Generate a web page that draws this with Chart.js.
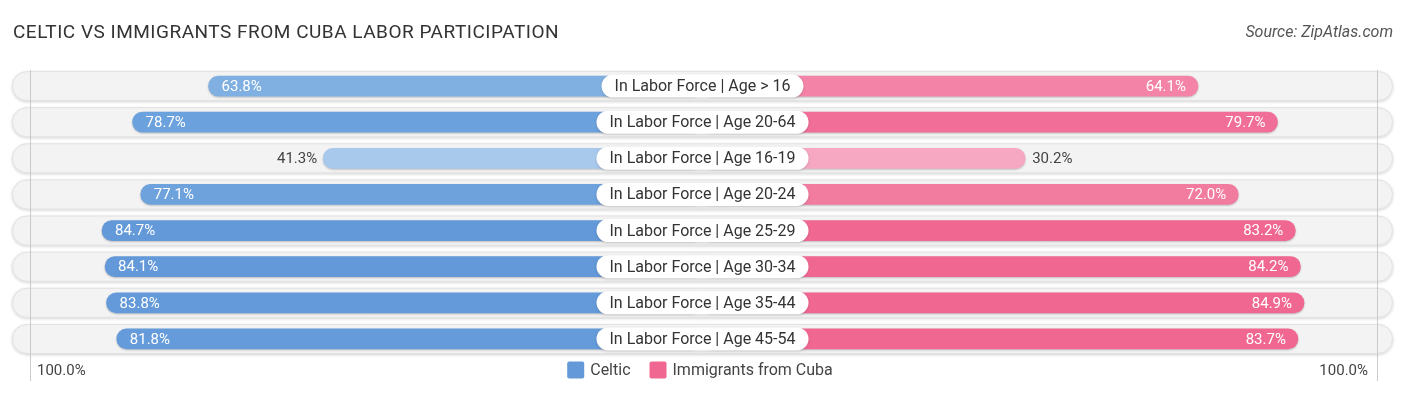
<!DOCTYPE html>
<html>
<head>
<meta charset="utf-8">
<script src="https://cdn.jsdelivr.net/npm/chart.js@4.4.1/dist/chart.umd.min.js"></script>
<style>
  html, body { margin: 0; padding: 0; background: #ffffff; }
  #wrap { position: relative; width: 1406px; height: 395px; }
  canvas { display: block; }
</style>
</head>
<body>
<div id="wrap"><canvas id="c" width="1406" height="395"></canvas></div>
<script>
// ---- data ----
const categories = [
  "In Labor Force | Age > 16",
  "In Labor Force | Age 20-64",
  "In Labor Force | Age 16-19",
  "In Labor Force | Age 20-24",
  "In Labor Force | Age 25-29",
  "In Labor Force | Age 30-34",
  "In Labor Force | Age 35-44",
  "In Labor Force | Age 45-54"
];
const celticValues = [63.8, 78.7, 41.3, 77.1, 84.7, 84.1, 83.8, 81.8];
const cubaValues   = [64.1, 79.7, 30.2, 72.0, 83.2, 84.2, 84.9, 83.7];
const seriesNames  = ["Celtic", "Immigrants from Cuba"];
const axisEndLabel = "100.0%";
const titleText  = "CELTIC VS IMMIGRANTS FROM CUBA LABOR PARTICIPATION";
const sourceText = "Source: ZipAtlas.com";

// ---- style ----
const celticColors = ["#80b0e2", "#6ba1dc", "#a9c9ec", "#6da2dd", "#6399d9", "#6399d9", "#649ad9", "#659bda"];
const cubaColors   = ["#f384a7", "#f06e98", "#f6a8c2", "#f27ba0", "#f06892", "#f06892", "#f06791", "#f06892"];
const legendBlue = "#6399d9", legendPink = "#f06892";
const CENTER_GAP = 33.1;   // half-width (in axis units) of the centre label zone
const AXIS_MAX = 100 + CENTER_GAP;

const fontFam = "Roboto, 'Noto Sans', sans-serif";

function roundRect(ctx, x, y, w, h, r) {
  ctx.beginPath();
  ctx.moveTo(x + r, y);
  ctx.lineTo(x + w - r, y);
  ctx.arc(x + w - r, y + r, r, -Math.PI / 2, 0);
  ctx.lineTo(x + w, y + h - r);
  ctx.arc(x + w - r, y + h - r, r, 0, Math.PI / 2);
  ctx.lineTo(x + r, y + h);
  ctx.arc(x + r, y + h - r, r, Math.PI / 2, Math.PI);
  ctx.lineTo(x, y + r);
  ctx.arc(x + r, y + r, r, Math.PI, Math.PI * 1.5);
  ctx.closePath();
}

const decor = {
  id: 'decor',
  beforeDatasetsDraw(chart) {
    const ctx = chart.ctx, ys = chart.scales.y;
    const ca = chart.chartArea;
    ctx.save();
    categories.forEach((c, i) => {
      const yc = ys.getPixelForValue(i);
      ctx.save();
      ctx.shadowColor = 'rgba(0,0,0,0.18)';
      ctx.shadowBlur = 3;
      ctx.shadowOffsetY = 1;
      roundRect(ctx, 12, yc - 15, 1381, 30, 15);
      ctx.fillStyle = '#f3f3f3';
      ctx.fill();
      ctx.restore();
      roundRect(ctx, 12.5, yc - 14.5, 1380, 29, 14.5);
      ctx.strokeStyle = '#e2e2e2';
      ctx.lineWidth = 1;
      ctx.stroke();
    });
    ctx.strokeStyle = 'rgba(190,190,190,0.8)';
    ctx.lineWidth = 1;
    const lx = Math.round(ca.left + 6) + 0.5, rx = Math.round(ca.right - 4) + 0.5;
    ctx.beginPath();
    ctx.moveTo(lx, ys.getPixelForValue(0) - 16); ctx.lineTo(lx, 381);
    ctx.moveTo(rx, ys.getPixelForValue(0) - 16); ctx.lineTo(rx, 381);
    ctx.stroke();
    ctx.restore();
    ctx.save();
    ctx.shadowColor = 'rgba(0,0,0,0.22)';
    ctx.shadowBlur = 2;
    ctx.shadowOffsetY = 1;
  },
  afterDatasetsDraw(chart) {
    const ctx = chart.ctx, ys = chart.scales.y, xs = chart.scales.x;
    ctx.restore();
    ctx.save();
    const cx = xs.getPixelForValue(0);
    categories.forEach((c, i) => {
      const yc = ys.getPixelForValue(i);
      ctx.font = `16px ${fontFam}`;
      const tw = ctx.measureText(c).width;
      const pw = tw + 26, ph = 23;
      ctx.save();
      ctx.shadowColor = 'rgba(0,0,0,0.15)';
      ctx.shadowBlur = 3;
      ctx.shadowOffsetY = 1;
      roundRect(ctx, cx - pw / 2, yc - ph / 2, pw, ph, ph / 2);
      ctx.fillStyle = '#ffffff';
      ctx.fill();
      ctx.restore();
      ctx.fillStyle = '#333333';
      ctx.textAlign = 'center';
      ctx.textBaseline = 'middle';
      ctx.fillText(c, cx, yc + 1);

      ctx.font = `15px ${fontFam}`;
      const lv = celticValues[i], rv = cubaValues[i];
      const lEnd = xs.getPixelForValue(-(lv + CENTER_GAP));
      const rEnd = xs.getPixelForValue(rv + CENTER_GAP);
      const lt = lv.toFixed(1) + '%', rt = rv.toFixed(1) + '%';
      if (lv >= 50) {
        ctx.fillStyle = '#ffffff'; ctx.textAlign = 'left';
        ctx.fillText(lt, lEnd + 13, yc + 1);
      } else {
        ctx.fillStyle = '#444444'; ctx.textAlign = 'right';
        ctx.fillText(lt, lEnd - 6, yc + 1);
      }
      if (rv >= 50) {
        ctx.fillStyle = '#ffffff'; ctx.textAlign = 'right';
        ctx.fillText(rt, rEnd - 12, yc + 1);
      } else {
        ctx.fillStyle = '#444444'; ctx.textAlign = 'left';
        ctx.fillText(rt, rEnd + 7, yc + 1);
      }
    });
    ctx.restore();
  },
  afterDraw(chart) {
    const ctx = chart.ctx;
    ctx.save();
    ctx.font = `19px ${fontFam}`;
    ctx.fillStyle = '#333333';
    ctx.textAlign = 'left';
    ctx.textBaseline = 'middle';
    if ('letterSpacing' in ctx) ctx.letterSpacing = '0.5px';
    ctx.fillText(titleText, 13, 33);
    if ('letterSpacing' in ctx) ctx.letterSpacing = '0px';
    ctx.font = `italic 16px ${fontFam}`;
    ctx.fillStyle = '#555555';
    ctx.textAlign = 'right';
    ctx.fillText(sourceText, 1393, 33);
    ctx.font = `15px ${fontFam}`;
    ctx.fillStyle = '#444444';
    ctx.textAlign = 'left';
    ctx.fillText(axisEndLabel, 37, 371);
    ctx.textAlign = 'right';
    ctx.fillText(axisEndLabel, 1368, 371);
    ctx.font = `16px ${fontFam}`;
    const w1 = ctx.measureText(seriesNames[0]).width;
    const w2 = ctx.measureText(seriesNames[1]).width;
    const total = 17 + 6 + w1 + 19 + 17 + 6 + w2;
    let x = 700 - total / 2;
    const y = 370;
    roundRect(ctx, x, y - 8.5, 17, 17, 2);
    ctx.fillStyle = legendBlue; ctx.fill();
    ctx.fillStyle = '#444444'; ctx.textAlign = 'left';
    ctx.fillText(seriesNames[0], x + 23, y + 1);
    x += 17 + 6 + w1 + 19;
    roundRect(ctx, x, y - 8.5, 17, 17, 2);
    ctx.fillStyle = legendPink; ctx.fill();
    ctx.fillStyle = '#444444';
    ctx.fillText(seriesNames[1], x + 23, y + 1);
    ctx.restore();
  }
};

new Chart(document.getElementById('c'), {
  type: 'bar',
  data: {
    labels: categories,
    datasets: [
      {
        label: seriesNames[0],
        data: celticValues.map(v => [-(v + CENTER_GAP), 0]),
        backgroundColor: celticColors,
        borderRadius: 10,
        borderSkipped: false,
        barThickness: 20
      },
      {
        label: seriesNames[1],
        data: cubaValues.map(v => [0, v + CENTER_GAP]),
        backgroundColor: cubaColors,
        borderRadius: 10,
        borderSkipped: false,
        barThickness: 20
      }
    ]
  },
  options: {
    indexAxis: 'y',
    responsive: false,
    animation: false,
    devicePixelRatio: 1,
    layout: { padding: { left: 24, right: 25, top: 68, bottom: 38 } },
    scales: {
      x: { display: false, min: -AXIS_MAX, max: AXIS_MAX, stacked: false },
      y: { display: false, offset: true }
    },
    datasets: { bar: { grouped: false } },
    plugins: { legend: { display: false }, title: { display: false }, tooltip: { enabled: false } }
  },
  plugins: [decor]
});
</script>
</body>
</html>
